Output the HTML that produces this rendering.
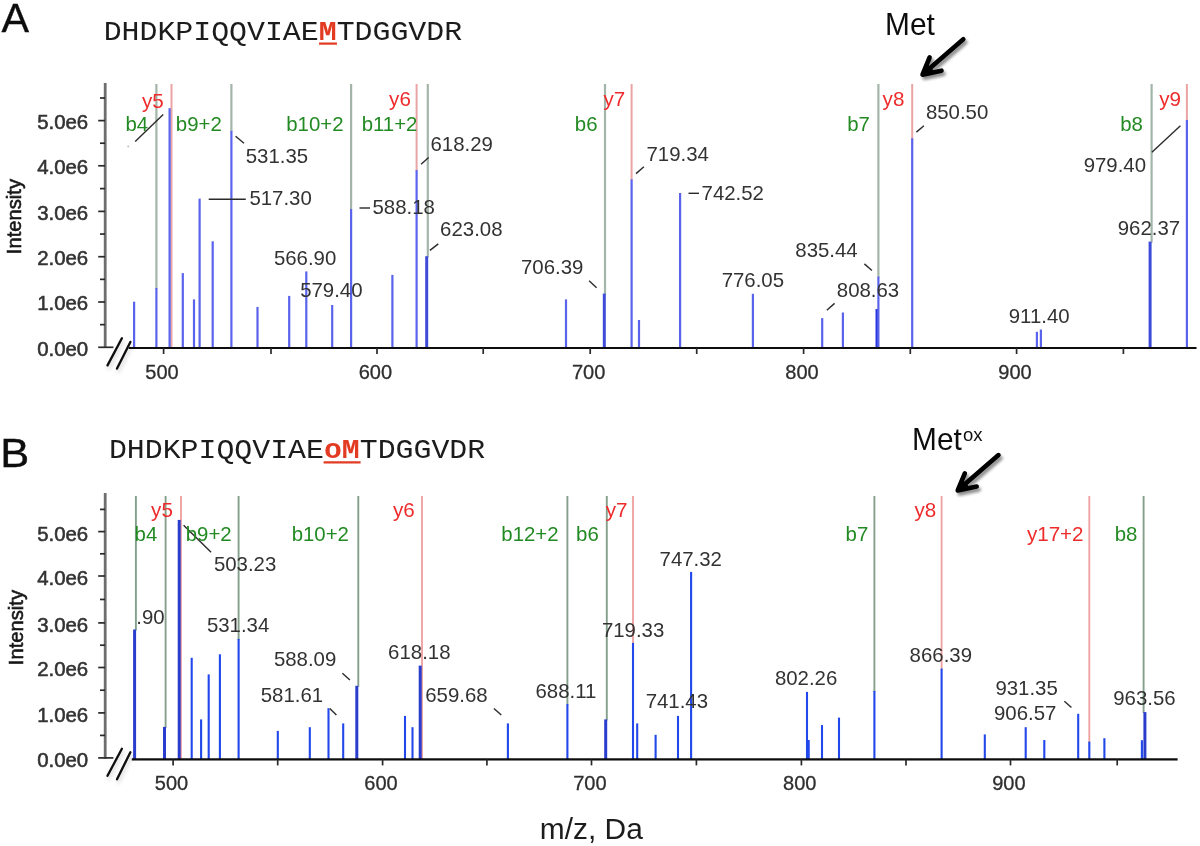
<!DOCTYPE html>
<html lang="en"><head><meta charset="utf-8"><title>MS/MS spectra: Met vs oxidised Met peptide</title>
<style>
html,body{margin:0;padding:0;background:#fff;}
body{width:1200px;height:846px;overflow:hidden;}
svg{display:block;}
text{font-family:"Liberation Sans", Arial, Helvetica, sans-serif;}
.seq{font-family:"Liberation Mono", "Courier New", Courier, monospace;font-size:29.88px;fill:#1a1a1a;}
.seq .m{fill:#e23a24;stroke:#e23a24;font-weight:bold;stroke-width:0;}
.pan{font-size:41.3px;fill:#111;stroke:#111;stroke-width:.35px;}
.met{font-size:30.9px;fill:#111;}
.sup{font-size:18.5px;fill:#111;}
.xt{font-size:29.9px;fill:#1c1c1c;}
.yl{font-size:20.4px;fill:#333;text-anchor:end;stroke:#333;stroke-width:.55px;}
.xl{font-size:20px;fill:#2e2e2e;text-anchor:middle;stroke:#2e2e2e;stroke-width:.3px;}
.it{font-size:20.2px;fill:#161616;stroke:#161616;stroke-width:.55px;}
.gl{font-size:20.4px;fill:#238a23;}
.rl{font-size:20.6px;fill:#ee2b2b;}
.pl{font-size:20.4px;fill:#333;}
line{stroke-linecap:butt;}
.gA{stroke:#a3b5a9;stroke-width:2.2;}
.gB{stroke:#84a08c;stroke-width:1.9;}
.rA{stroke:#eba4a4;stroke-width:2.0;}
.rB{stroke:#ef9f9d;stroke-width:1.8;}
.pA{stroke:#5a63ec;stroke-width:2.2;}
.pA.w3{stroke:#3e4cd8;stroke-width:3.0;}
.pA.w3.dk{stroke:#2a38de;}
.pB{stroke:#2047ea;stroke-width:2.1;}
.pB.w3{stroke:#2a3dcc;stroke-width:3.0;}
.yax{stroke:#6e6e6e;stroke-width:2.8;}
.xax{stroke:#0c0c0c;stroke-width:2.1;}
.tk{stroke:#2a2a2a;stroke-width:1.7;}
.brk{stroke:#0a0a0a;stroke-width:2.3;stroke-linecap:round;}
.ld{stroke:#2b2b2b;stroke-width:1.4;}
.arw path{stroke:#000;stroke-width:4.6;stroke-linecap:round;stroke-linejoin:round;fill:none;}
.arw path.hd{fill:#000;stroke-width:1;}
.ul{stroke:#e23a24;stroke-width:2.2;}
</style></head><body>
<svg width="1200" height="846" viewBox="0 0 1200 846">
<defs>
<filter id="soft" x="-2%" y="-2%" width="104%" height="104%"><feGaussianBlur stdDeviation="0.55"/></filter>
<filter id="sh" x="-30%" y="-30%" width="170%" height="170%"><feGaussianBlur in="SourceAlpha" stdDeviation="1.6"/><feOffset dx="1.5" dy="2.5"/><feComponentTransfer><feFuncA type="linear" slope="0.45"/></feComponentTransfer><feMerge><feMergeNode/><feMergeNode in="SourceGraphic"/></feMerge></filter>
<filter id="sh2" x="-40%" y="-20%" width="200%" height="160%"><feGaussianBlur in="SourceAlpha" stdDeviation="2.2" result="b"/><feOffset in="b" dx="1" dy="3" result="o"/><feComponentTransfer in="o" result="s"><feFuncA type="linear" slope="0.2"/></feComponentTransfer><feGaussianBlur in="SourceGraphic" stdDeviation="0.5" result="g"/><feMerge><feMergeNode in="s"/><feMergeNode in="g"/></feMerge></filter>
</defs>
<rect width="1200" height="846" fill="#fff"/>
<g filter="url(#soft)">
<g id="panelA">
<line class="gA" x1="156.4" y1="84" x2="156.4" y2="289"/>
<line class="gA" x1="231.4" y1="84" x2="231.4" y2="131.9"/>
<line class="gA" x1="351.1" y1="84" x2="351.1" y2="210.1"/>
<line class="gA" x1="427.8" y1="84" x2="427.8" y2="257.2"/>
<line class="gA" x1="605" y1="84" x2="605" y2="294.6"/>
<line class="gA" x1="878.4" y1="84" x2="878.4" y2="277.6"/>
<line class="gA" x1="1151.6" y1="84" x2="1151.6" y2="242.6"/>
<line class="rA" x1="171.5" y1="84" x2="171.5" y2="348"/>
<line class="rA" x1="416.6" y1="84" x2="416.6" y2="171.1"/>
<line class="rA" x1="631.6" y1="84" x2="631.6" y2="180.4"/>
<line class="rA" x1="912.2" y1="84" x2="912.2" y2="139.3"/>
<line class="rA" x1="1186.9" y1="84" x2="1186.9" y2="120.9"/>
<line class="pA" x1="134.1" y1="301.7" x2="134.1" y2="348"/>
<line class="pA" x1="156.4" y1="288" x2="156.4" y2="348"/>
<line class="pA" x1="169.6" y1="108.2" x2="169.6" y2="348"/>
<line class="pA" x1="182.8" y1="273.1" x2="182.8" y2="348"/>
<line class="pA" x1="194" y1="299.4" x2="194" y2="348"/>
<line class="pA" x1="199.6" y1="198.6" x2="199.6" y2="348"/>
<line class="pA" x1="212.7" y1="241.3" x2="212.7" y2="348"/>
<line class="pA" x1="231.4" y1="130.9" x2="231.4" y2="348"/>
<line class="pA" x1="257.5" y1="306.9" x2="257.5" y2="348"/>
<line class="pA" x1="289.2" y1="295.9" x2="289.2" y2="348"/>
<line class="pA" x1="306.3" y1="271.4" x2="306.3" y2="348"/>
<line class="pA" x1="332.2" y1="305" x2="332.2" y2="348"/>
<line class="pA" x1="351.1" y1="209.1" x2="351.1" y2="348"/>
<line class="pA" x1="392.4" y1="274.9" x2="392.4" y2="348"/>
<line class="pA" x1="416.6" y1="170.1" x2="416.6" y2="348"/>
<line class="pA w3" x1="426.7" y1="256.2" x2="426.7" y2="348"/>
<line class="pA" x1="566" y1="299.4" x2="566" y2="348"/>
<line class="pA w3" x1="604.3" y1="293.6" x2="604.3" y2="348"/>
<line class="pA" x1="631.6" y1="179.4" x2="631.6" y2="348"/>
<line class="pA" x1="639" y1="320" x2="639" y2="348"/>
<line class="pA" x1="680.1" y1="193" x2="680.1" y2="348"/>
<line class="pA" x1="752.9" y1="293.8" x2="752.9" y2="348"/>
<line class="pA" x1="822.2" y1="318.1" x2="822.2" y2="348"/>
<line class="pA" x1="842.9" y1="312.5" x2="842.9" y2="348"/>
<line class="pA w3 dk" x1="877" y1="309" x2="877" y2="348"/>
<line class="pA" x1="878.4" y1="276.6" x2="878.4" y2="348"/>
<line class="pA" x1="912.2" y1="138.3" x2="912.2" y2="348"/>
<line class="pA" x1="1036.9" y1="331.8" x2="1036.9" y2="348"/>
<line class="pA" x1="1040.9" y1="329.5" x2="1040.9" y2="348"/>
<line class="pA w3" x1="1150.1" y1="241.6" x2="1150.1" y2="348"/>
<line class="pA" x1="1186.9" y1="119.9" x2="1186.9" y2="348"/>
<line class="yax" x1="105.2" y1="83" x2="105.2" y2="348.1"/>
<line class="xax" x1="128.7" y1="348" x2="1196.5" y2="348"/>
<line class="tk" x1="98.2" y1="347.3" x2="113.4" y2="347.3"/>
<line class="tk" x1="100" y1="324.65" x2="105" y2="324.65"/>
<line class="tk" x1="98.2" y1="302" x2="105" y2="302"/>
<line class="tk" x1="100" y1="279.35" x2="105" y2="279.35"/>
<line class="tk" x1="98.2" y1="256.7" x2="105" y2="256.7"/>
<line class="tk" x1="100" y1="234.05" x2="105" y2="234.05"/>
<line class="tk" x1="98.2" y1="211.4" x2="105" y2="211.4"/>
<line class="tk" x1="100" y1="188.6" x2="105" y2="188.6"/>
<line class="tk" x1="98.2" y1="165.8" x2="105" y2="165.8"/>
<line class="tk" x1="100" y1="143.2" x2="105" y2="143.2"/>
<line class="tk" x1="98.2" y1="120.6" x2="105" y2="120.6"/>
<line class="tk" x1="100" y1="98" x2="105" y2="98"/>
<text class="yl" x="88.2" y="355.6">0.0e0</text>
<text class="yl" x="88.2" y="310.3">1.0e6</text>
<text class="yl" x="88.2" y="265">2.0e6</text>
<text class="yl" x="88.2" y="219.7">3.0e6</text>
<text class="yl" x="88.2" y="174.1">4.0e6</text>
<text class="yl" x="88.2" y="128.9">5.0e6</text>
<line class="tk" x1="163.6" y1="348" x2="163.6" y2="354"/>
<text class="xl" x="162" y="378.5">500</text>
<line class="tk" x1="271" y1="348" x2="271" y2="354"/>
<line class="tk" x1="377" y1="348" x2="377" y2="354"/>
<text class="xl" x="375.4" y="378.5">600</text>
<line class="tk" x1="483.2" y1="348" x2="483.2" y2="354"/>
<line class="tk" x1="590.2" y1="348" x2="590.2" y2="354"/>
<text class="xl" x="588.6" y="378.5">700</text>
<line class="tk" x1="696.7" y1="348" x2="696.7" y2="354"/>
<line class="tk" x1="803.6" y1="348" x2="803.6" y2="354"/>
<text class="xl" x="802" y="378.5">800</text>
<line class="tk" x1="910.3" y1="348" x2="910.3" y2="354"/>
<line class="tk" x1="1016.6" y1="348" x2="1016.6" y2="354"/>
<text class="xl" x="1015" y="378.5">900</text>
<line class="tk" x1="1123.4" y1="348" x2="1123.4" y2="354"/>
<line class="ld" x1="135.2" y1="141.4" x2="163.2" y2="114.6"/>
<line class="ld" x1="235.6" y1="136.2" x2="244" y2="143.2"/>
<line class="ld" x1="208.7" y1="199.2" x2="245.8" y2="199.2"/>
<line class="ld" x1="359.5" y1="208" x2="370" y2="208"/>
<line class="ld" x1="421.1" y1="164.2" x2="428.6" y2="157.5"/>
<line class="ld" x1="429.9" y1="250.4" x2="438.3" y2="243.9"/>
<line class="ld" x1="589.1" y1="280.7" x2="596.6" y2="287.7"/>
<line class="ld" x1="636" y1="173.6" x2="643.9" y2="166.8"/>
<line class="ld" x1="688.5" y1="193.3" x2="699" y2="193.3"/>
<line class="ld" x1="864.4" y1="263.9" x2="871.9" y2="270.5"/>
<line class="ld" x1="826.8" y1="310.2" x2="834.6" y2="303.4"/>
<line class="ld" x1="916.4" y1="132.1" x2="923.9" y2="125.7"/>
<line class="ld" x1="1151.9" y1="152.3" x2="1180.4" y2="125.7"/>
<text class="gl" x="125.45" y="130.8">b4</text>
<text class="gl" x="175.85" y="130.8">b9+2</text>
<text class="gl" x="286.25" y="130.8">b10+2</text>
<text class="gl" x="361.65" y="130.8">b11+2</text>
<text class="gl" x="574.85" y="130.8">b6</text>
<text class="gl" x="847.25" y="130.8">b7</text>
<text class="gl" x="1120.25" y="130.8">b8</text>
<text class="rl" x="142" y="107.6">y5</text>
<text class="rl" x="389.1" y="106">y6</text>
<text class="rl" x="603.4" y="106">y7</text>
<text class="rl" x="882.6" y="106">y8</text>
<text class="rl" x="1159.2" y="106">y9</text>
<text class="pl" x="245.79" y="162.9">531.35</text>
<text class="pl" x="249.39" y="204.8">517.30</text>
<text class="pl" x="273.89" y="264.9">566.90</text>
<text class="pl" x="300.19" y="296.8">579.40</text>
<text class="pl" x="372.49" y="214.4">588.18</text>
<text class="pl" x="430.52" y="150.9">618.29</text>
<text class="pl" x="440.12" y="236.4">623.08</text>
<text class="pl" x="520.98" y="274.4">706.39</text>
<text class="pl" x="646.48" y="160.7">719.34</text>
<text class="pl" x="701.58" y="199.9">742.52</text>
<text class="pl" x="721.68" y="287.1">776.05</text>
<text class="pl" x="795.32" y="257.4">835.44</text>
<text class="pl" x="836.82" y="297">808.63</text>
<text class="pl" x="925.92" y="119.3">850.50</text>
<text class="pl" x="1008.78" y="323">911.40</text>
<text class="pl" x="1117.78" y="235">962.37</text>
<text class="pl" x="1083.68" y="171.5">979.40</text>
<text class="it" transform="translate(20.9 254.2) rotate(-90)">Intensity</text>
</g>
<g id="panelB">
<line class="gB" x1="135.9" y1="496" x2="135.9" y2="630.5"/>
<line class="gB" x1="165.6" y1="496" x2="165.6" y2="727.9"/>
<line class="gB" x1="238.6" y1="496" x2="238.6" y2="639.9"/>
<line class="gB" x1="358.3" y1="496" x2="358.3" y2="686.8"/>
<line class="gB" x1="567.4" y1="496" x2="567.4" y2="705.1"/>
<line class="gB" x1="606.8" y1="496" x2="606.8" y2="720.4"/>
<line class="gB" x1="874.4" y1="496" x2="874.4" y2="692"/>
<line class="gB" x1="1143.6" y1="496" x2="1143.6" y2="713.1"/>
<line class="rB" x1="181" y1="496" x2="181" y2="759.4"/>
<line class="rB" x1="422" y1="496" x2="422" y2="759.4"/>
<line class="rB" x1="633" y1="496" x2="633" y2="643.9"/>
<line class="rB" x1="941.6" y1="496" x2="941.6" y2="669.6"/>
<line class="rB" x1="1089.3" y1="496" x2="1089.3" y2="742.6"/>
<line class="pB w3" x1="134.6" y1="629.5" x2="134.6" y2="759.4"/>
<line class="pB w3" x1="164.5" y1="726.9" x2="164.5" y2="759.4"/>
<line class="pB w3" x1="179.2" y1="519.9" x2="179.2" y2="759.4"/>
<line class="pB" x1="191.7" y1="657.8" x2="191.7" y2="759.4"/>
<line class="pB" x1="201.1" y1="719.4" x2="201.1" y2="759.4"/>
<line class="pB" x1="208.7" y1="674.4" x2="208.7" y2="759.4"/>
<line class="pB" x1="219.9" y1="654.3" x2="219.9" y2="759.4"/>
<line class="pB" x1="238.6" y1="638.9" x2="238.6" y2="759.4"/>
<line class="pB" x1="277.8" y1="730.9" x2="277.8" y2="759.4"/>
<line class="pB" x1="309.8" y1="727.2" x2="309.8" y2="759.4"/>
<line class="pB" x1="328.5" y1="708.2" x2="328.5" y2="759.4"/>
<line class="pB" x1="343.2" y1="723.4" x2="343.2" y2="759.4"/>
<line class="pB w3" x1="356.8" y1="685.8" x2="356.8" y2="759.4"/>
<line class="pB" x1="405" y1="715.9" x2="405" y2="759.4"/>
<line class="pB" x1="412.5" y1="727.2" x2="412.5" y2="759.4"/>
<line class="pB w3" x1="420.2" y1="665.6" x2="420.2" y2="759.4"/>
<line class="pB" x1="507.9" y1="723.4" x2="507.9" y2="759.4"/>
<line class="pB" x1="567.4" y1="704.1" x2="567.4" y2="759.4"/>
<line class="pB w3" x1="605.7" y1="719.4" x2="605.7" y2="759.4"/>
<line class="pB" x1="633" y1="642.9" x2="633" y2="759.4"/>
<line class="pB" x1="637.2" y1="723.4" x2="637.2" y2="759.4"/>
<line class="pB" x1="655.6" y1="734.8" x2="655.6" y2="759.4"/>
<line class="pB" x1="678" y1="715.9" x2="678" y2="759.4"/>
<line class="pB" x1="691.1" y1="571.9" x2="691.1" y2="759.4"/>
<line class="pB" x1="807" y1="691.9" x2="807" y2="759.4"/>
<line class="pB" x1="808.7" y1="740" x2="808.7" y2="759.4"/>
<line class="pB" x1="822" y1="725.1" x2="822" y2="759.4"/>
<line class="pB" x1="839" y1="717.6" x2="839" y2="759.4"/>
<line class="pB" x1="874.4" y1="691" x2="874.4" y2="759.4"/>
<line class="pB" x1="941.6" y1="668.6" x2="941.6" y2="759.4"/>
<line class="pB" x1="984.8" y1="734.4" x2="984.8" y2="759.4"/>
<line class="pB" x1="1025.7" y1="727.2" x2="1025.7" y2="759.4"/>
<line class="pB" x1="1044.3" y1="740" x2="1044.3" y2="759.4"/>
<line class="pB" x1="1078.2" y1="713.8" x2="1078.2" y2="759.4"/>
<line class="pB" x1="1089.3" y1="741.6" x2="1089.3" y2="759.4"/>
<line class="pB" x1="1104.4" y1="738.2" x2="1104.4" y2="759.4"/>
<line class="pB" x1="1141.9" y1="740.2" x2="1141.9" y2="759.4"/>
<line class="pB w3" x1="1144.9" y1="712.1" x2="1144.9" y2="759.4"/>
<line class="yax" x1="105.2" y1="493" x2="105.2" y2="758.7"/>
<line class="xax" x1="131.8" y1="759.4" x2="1177.6" y2="759.4"/>
<line class="tk" x1="98.2" y1="757.9" x2="113.4" y2="757.9"/>
<line class="tk" x1="100" y1="735.4" x2="105" y2="735.4"/>
<line class="tk" x1="98.2" y1="712.9" x2="105" y2="712.9"/>
<line class="tk" x1="100" y1="690.2" x2="105" y2="690.2"/>
<line class="tk" x1="98.2" y1="667.5" x2="105" y2="667.5"/>
<line class="tk" x1="100" y1="645.2" x2="105" y2="645.2"/>
<line class="tk" x1="98.2" y1="622.9" x2="105" y2="622.9"/>
<line class="tk" x1="100" y1="599.45" x2="105" y2="599.45"/>
<line class="tk" x1="98.2" y1="576" x2="105" y2="576"/>
<line class="tk" x1="100" y1="553.8" x2="105" y2="553.8"/>
<line class="tk" x1="98.2" y1="531.6" x2="105" y2="531.6"/>
<line class="tk" x1="100" y1="509.4" x2="105" y2="509.4"/>
<text class="yl" x="88.2" y="766.8">0.0e0</text>
<text class="yl" x="88.2" y="721.8">1.0e6</text>
<text class="yl" x="88.2" y="676.4">2.0e6</text>
<text class="yl" x="88.2" y="631.8">3.0e6</text>
<text class="yl" x="88.2" y="584.9">4.0e6</text>
<text class="yl" x="88.2" y="540.5">5.0e6</text>
<line class="tk" x1="173.1" y1="759.4" x2="173.1" y2="765.4"/>
<text class="xl" x="171.5" y="789.9">500</text>
<line class="tk" x1="277.7" y1="759.4" x2="277.7" y2="765.4"/>
<line class="tk" x1="382.6" y1="759.4" x2="382.6" y2="765.4"/>
<text class="xl" x="381" y="789.9">600</text>
<line class="tk" x1="486.9" y1="759.4" x2="486.9" y2="765.4"/>
<line class="tk" x1="591.5" y1="759.4" x2="591.5" y2="765.4"/>
<text class="xl" x="589.9" y="789.9">700</text>
<line class="tk" x1="696.4" y1="759.4" x2="696.4" y2="765.4"/>
<line class="tk" x1="801.4" y1="759.4" x2="801.4" y2="765.4"/>
<text class="xl" x="799.8" y="789.9">800</text>
<line class="tk" x1="906" y1="759.4" x2="906" y2="765.4"/>
<line class="tk" x1="1010.5" y1="759.4" x2="1010.5" y2="765.4"/>
<text class="xl" x="1008.9" y="789.9">900</text>
<line class="tk" x1="1117.2" y1="759.4" x2="1117.2" y2="765.4"/>
<line class="ld" x1="183.6" y1="525.2" x2="211.1" y2="552.3"/>
<line class="ld" x1="342.4" y1="673.2" x2="349.9" y2="680"/>
<line class="ld" x1="329.8" y1="708.5" x2="336.4" y2="715"/>
<line class="ld" x1="493.9" y1="708.5" x2="501.3" y2="715"/>
<line class="ld" x1="1064.4" y1="701.2" x2="1071.4" y2="707.6"/>
<text class="gl" x="134.55" y="541.3">b4</text>
<text class="gl" x="185.75" y="541.3">b9+2</text>
<text class="gl" x="291.65" y="541.3">b10+2</text>
<text class="gl" x="501.35" y="541.3">b12+2</text>
<text class="gl" x="576.05" y="541.3">b6</text>
<text class="gl" x="845.55" y="541.3">b7</text>
<text class="gl" x="1114.65" y="541.3">b8</text>
<text class="rl" x="151.1" y="517.3">y5</text>
<text class="rl" x="392.9" y="516.8">y6</text>
<text class="rl" x="605.7" y="516.8">y7</text>
<text class="rl" x="914.4" y="516.6">y8</text>
<text class="rl" x="1026.9" y="541.3">y17+2</text>
<text class="pl" x="213.89" y="571">503.23</text>
<text class="pl" x="136.26" y="623.5">.90</text>
<text class="pl" x="206.89" y="632.3">531.34</text>
<text class="pl" x="273.89" y="666">588.09</text>
<text class="pl" x="260.79" y="701.7">581.61</text>
<text class="pl" x="388.12" y="659.2">618.18</text>
<text class="pl" x="425.22" y="701.9">659.68</text>
<text class="pl" x="535.52" y="698">688.11</text>
<text class="pl" x="601.88" y="636.7">719.33</text>
<text class="pl" x="645.68" y="707.6">741.43</text>
<text class="pl" x="659.58" y="565.8">747.32</text>
<text class="pl" x="774.92" y="684.9">802.26</text>
<text class="pl" x="909.62" y="662.1">866.39</text>
<text class="pl" x="995.38" y="694.5">931.35</text>
<text class="pl" x="993.98" y="719.9">906.57</text>
<text class="pl" x="1113.28" y="704.5">963.56</text>
<text class="it" transform="translate(22.6 665.2) rotate(-90)">Intensity</text>
</g>
<circle cx="128.2" cy="146.5" r="0.9" fill="#bbb"/>
<text class="pan" x="1.6" y="31.7">A</text>
<text class="pan" x="0.2" y="466.7" textLength="29" lengthAdjust="spacingAndGlyphs">B</text>
<text class="seq" transform="translate(103.7 40.4) scale(1 0.92)">DHDKPIQQVIAE<tspan class="m">M</tspan>TDGGVDR</text>
<line class="ul" x1="319" y1="43.6" x2="337" y2="43.6"/>
<text class="seq" transform="translate(108.9 458.4) scale(1 0.92)">DHDKPIQQVIAE<tspan class="m">oM</tspan>TDGGVDR</text>
<line class="ul" x1="323.6" y1="462.4" x2="360.6" y2="462.4"/>
<text class="met" x="885" y="35.1" textLength="49.8" lengthAdjust="spacingAndGlyphs">Met</text>
<text class="met" x="912.0" y="449.8" textLength="49.8" lengthAdjust="spacingAndGlyphs">Met</text><text class="sup" x="962.9" y="440.7">ox</text>
<text class="xt" x="539.8" y="839">m/z, Da</text>
</g>
<g filter="url(#sh2)">
<line class="brk" x1="107.5" y1="365.4" x2="121.9" y2="338.3"/>
<line class="brk" x1="117" y1="368.6" x2="130.4" y2="341.9"/>
<line class="brk" x1="107.5" y1="775.7" x2="121.9" y2="748.7"/>
<line class="brk" x1="117" y1="779.2" x2="130.4" y2="752.2"/>
</g>
<g filter="url(#sh)">
<g class="arw">
<path d="M963.3 39.3 L923.5 73.8"/>
<path d="M929.6 57.5 L922.5 74.7 L941.5 70.7"/>
<path class="hd" d="M922.5 74.7 L927.1 64.1 L933.9 71.5 Z"/>
</g>
<g class="arw">
<path d="M998.5 455.1 L958.7 489.6"/>
<path d="M964.8 473.3 L957.7 490.5 L976.7 486.5"/>
<path class="hd" d="M957.7 490.5 L962.3 479.9 L969.1 487.3 Z"/>
</g>
</g>
</svg>
</body></html>
